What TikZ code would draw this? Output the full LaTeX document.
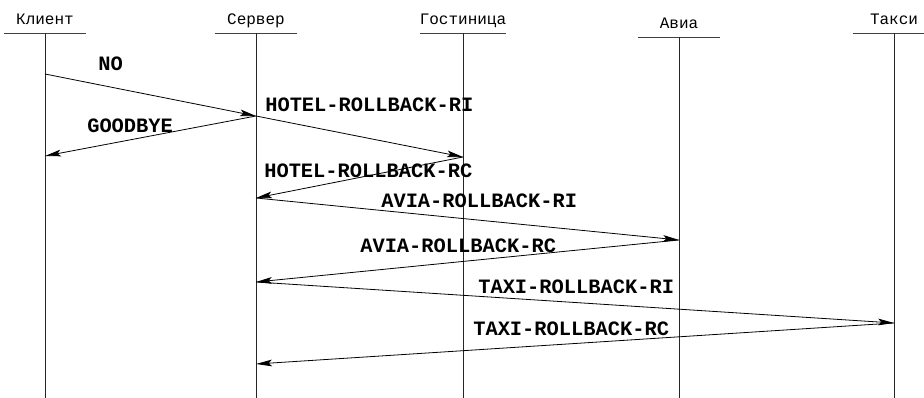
\documentclass[tikz,border=0pt]{standalone}
\usepackage{fontspec}
\setmonofont{Liberation Mono}
\usetikzlibrary{arrows.meta, calc}

\begin{document}
\begin{tikzpicture}[
        x=0.75pt, y=-0.75pt, % 1 unit = 1 px, y down
        >={Stealth[length=12pt, width=5pt, inset=2.5pt]}, % Arrowhead style
        actor/.style={font=\ttfamily\fontsize{12}{14}\selectfont, anchor=base, inner xsep=0pt, inner ysep=6pt, text depth=0pt, minimum width=61.5pt},
        headline/.style={draw=black!75, line width=0.7pt},
        lifeline/.style={draw=black!85, line width=0.7pt},
        msg/.style={font=\ttfamily\bfseries\fontsize{15.3}{18}\selectfont, anchor=base west, inner sep=0pt},
        call/.style={->, line width=0.6pt}
    ]

    \useasboundingbox (0,0) rectangle (924,398);
    \coordinate (bottom) at (0,398);

    % ==========================================
    % 1. PARTICIPANTS
    % ==========================================
    \node[actor] (klient)    at (45, 25)  {Клиент};
    \node[actor] (server)    at (256, 25) {Сервер};
    \node[actor] (gostinica) at (463, 25) {Гостиница};
    \node[actor] (avia)      at (679, 29) {Авиа};
    \node[actor] (taxi)      at (894, 25) {Такси};

    \draw[headline] (klient.south west)    -- (klient.south east);
    \draw[headline] (server.south west)    -- (server.south east);
    \draw[headline] (gostinica.south west) -- (gostinica.south east);
    \draw[headline] (avia.south west)      -- (avia.south east);
    \draw[headline] (taxi.south west)      -- (taxi.south east);

    % ==========================================
    % 2. LIFELINES
    % ==========================================
    \draw[lifeline] (klient.south)    -- (klient.south |- bottom);
    \draw[lifeline] (server.south)    -- (server.south |- bottom);
    \draw[lifeline] (gostinica.south) -- (gostinica.south |- bottom);
    \draw[lifeline] (avia.south)      -- (avia.south |- bottom);
    \draw[lifeline] (taxi.south)      -- (taxi.south |- bottom);

    % ==========================================
    % 3. MESSAGE POINTS
    % ==========================================
    \coordinate (k1) at (klient |- 0,74);
    \coordinate (s1) at (server |- 0,116);
    \coordinate (k2) at (klient |- 0,156);
    \coordinate (g1) at (gostinica |- 0,157);
    \coordinate (s2) at (server |- 0,198);
    \coordinate (a1) at (avia |- 0,240);
    \coordinate (s3) at (server |- 0,282);
    \coordinate (t1) at (taxi |- 0,323);
    \coordinate (s4) at (server |- 0,364);

    % ==========================================
    % 4. MESSAGES (LINES & ARROWS)
    % ==========================================
    \draw[call] (k1) -- (s1);
    \draw[call] (s1) -- (g1);
    \draw[call] (s1) -- (k2);
    \draw[call] (g1) -- (s2);
    \draw[call] (s2) -- (a1);
    \draw[call] (a1) -- (s3);
    \draw[call] (s3) -- (t1);
    \draw[call] (t1) -- (s4);

    % Message labels
    \node[msg] (no)      at (98, 71)  {NO};
    \node[msg] (hotelri) at (265, 112) {HOTEL-ROLLBACK-RI};
    \node[msg] (goodbye) at (87, 133) {GOODBYE};
    \node[msg] (hotelrc) at (264, 178) {HOTEL-ROLLBACK-RC};
    \node[msg] (aviari)  at (381, 208) {AVIA-ROLLBACK-RI};
    \node[msg] (aviarc)  at (360, 253) {AVIA-ROLLBACK-RC};
    \node[msg] (taxiri)  at (478, 294) {TAXI-ROLLBACK-RI};
    \node[msg] (taxirc)  at (473, 336) {TAXI-ROLLBACK-RC};

    \end{tikzpicture}
\end{document}
